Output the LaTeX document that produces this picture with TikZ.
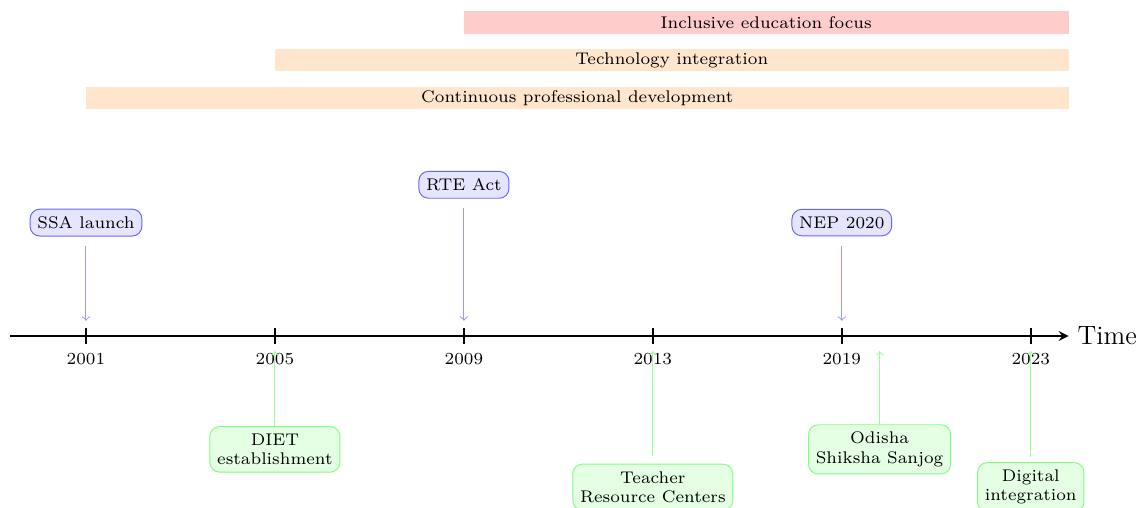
\documentclass[tikz,border=0pt]{standalone}
\usepackage{tikz}

\tikzset{
  event/.style={draw=blue!60, fill=blue!10, rounded corners, inner sep=3pt, font=\scriptsize},
  local/.style={draw=green!50, fill=green!10, rounded corners, inner sep=3pt, font=\scriptsize, align=center},
  eventarrow/.style={->, blue!40, shorten <=4pt, shorten >=6.3pt},
  localarrow/.style={->, green!40, shorten >=6.3pt},
  bartext/.style={font=\scriptsize},
  year/.style={font=\scriptsize}
}

\begin{document}
\begin{tikzpicture}[x=0.55cm, y=0.55cm]
    \useasboundingbox (-2.275,-4.55) rectangle (27.97,8.89);

    % Phases on top
    \fill[red!20] (10,8) rectangle (26,8.6);
    \node[bartext] (inclusive) at (18,8.3) {Inclusive education focus};
    \fill[orange!20] (5,7) rectangle (26,7.6);
    \node[bartext] (technology) at (15.5,7.3) {Technology integration};
    \fill[orange!20] (0,6) rectangle (26,6.6);
    \node[bartext] (continuous) at (13,6.3) {Continuous professional development};

    % Time axis
    \draw[thick, -stealth] (-2,0) -- (26,0) node[right, font=\fontsize{11}{13}\selectfont] (time) {Time};

    % Ticks and years
    \coordinate (y2001) at (0,0);
    \coordinate (y2005) at (5,0);
    \coordinate (y2009) at (10,0);
    \coordinate (y2013) at (15,0);
    \coordinate (y2019) at (20,0);
    \coordinate (y2020) at (21,0);
    \coordinate (y2023) at (25,0);
    \draw[thick] (0,0.2) -- (0,-0.2);
    \draw[thick] (5,0.2) -- (5,-0.2);
    \draw[thick] (10,0.2) -- (10,-0.2);
    \draw[thick] (15,0.2) -- (15,-0.2);
    \draw[thick] (20,0.2) -- (20,-0.2);
    \draw[thick] (25,0.2) -- (25,-0.2);
    \node[year] (l2001) at (0,-0.6) {2001};
    \node[year] (l2005) at (5,-0.6) {2005};
    \node[year] (l2009) at (10,-0.6) {2009};
    \node[year] (l2013) at (15,-0.6) {2013};
    \node[year] (l2019) at (20,-0.6) {2019};
    \node[year] (l2023) at (25,-0.6) {2023};

    % National events
    \node[event] (ssa) at (0,3) {SSA launch};
    \node[event] (rte) at (10,4) {RTE Act};
    \node[event] (nep) at (20,3) {NEP 2020};

    % State and local events
    \node[local] (diet) at (5,-3) {DIET\\establishment};
    \node[local] (trc) at (15,-4) {Teacher\\Resource Centers};
    \node[local] (oss) at (21,-3) {Odisha\\Shiksha Sanjog};
    \node[local] (digital) at (25,-4) {Digital\\integration};

    % Arrows
    \draw[eventarrow] (ssa) -- (y2001);
    \draw[eventarrow] (rte) -- (y2009);
    \draw[eventarrow] (nep) -- (y2019);
    \draw[localarrow] (diet) -- (y2005);
    \draw[localarrow, shorten <=3pt] (trc) -- (y2013);
    \draw[localarrow] (oss) -- (y2020);
    \draw[localarrow, shorten <=2pt] (digital) -- (y2023);

\end{tikzpicture}
\end{document}
